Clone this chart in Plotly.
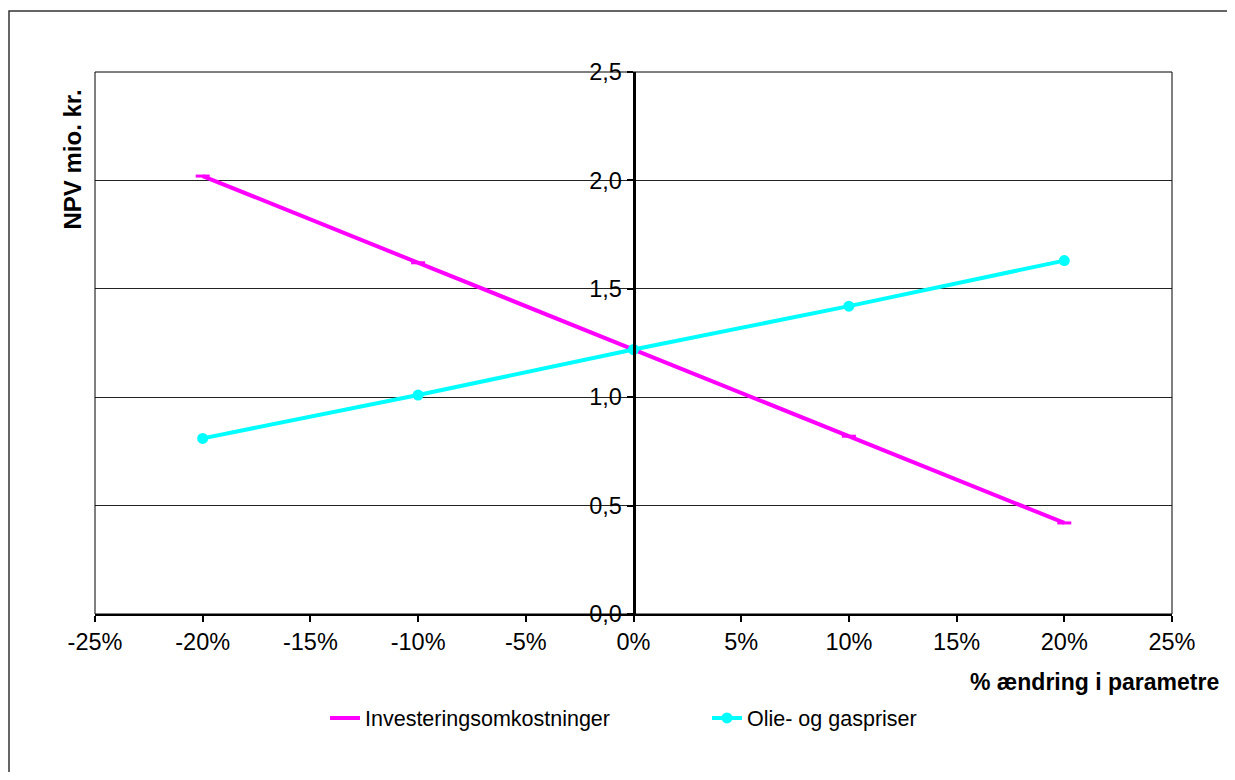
import plotly.graph_objects as go

x_change = [-0.20, -0.10, 0.0, 0.10, 0.20]
invest = [2.02, 1.62, 1.22, 0.82, 0.42]
olie = [0.81, 1.01, 1.22, 1.42, 1.63]
x_ticks = [-0.25, -0.20, -0.15, -0.10, -0.05, 0.0, 0.05, 0.10, 0.15, 0.20, 0.25]
x_labels = ["-25%", "-20%", "-15%", "-10%", "-5%", "0%", "5%", "10%", "15%", "20%", "25%"]
y_ticks = [0.0, 0.5, 1.0, 1.5, 2.0, 2.5]
y_labels = ["0,0", "0,5", "1,0", "1,5", "2,0", "2,5"]

FONT = "Liberation Sans, Arial, sans-serif"

# figure is placed with an 8px page offset; plot area in figure px
L, T, PW, PH = 87, 64, 1077, 542

fig = go.Figure()
fig.add_trace(go.Scatter(
    x=x_change, y=invest, name="Investeringsomkostninger", mode="lines+markers",
    line=dict(color="#FF00FF", width=4),
    marker=dict(symbol="line-ew", size=10, color="#FF00FF", line=dict(color="#FF00FF", width=3)),
    legend="legend",
))
fig.add_trace(go.Scatter(
    x=x_change, y=olie, name="Olie- og gaspriser", mode="lines+markers",
    line=dict(color="#00FFFF", width=4),
    marker=dict(symbol="circle", size=11, color="#00FFFF"),
    legend="legend2",
))

fig.update_layout(
    width=1227, height=764,
    margin=dict(l=L, r=63, t=T, b=158),
    paper_bgcolor="white", plot_bgcolor="white",
    font=dict(family=FONT, size=23, color="black"),
    showlegend=True,
    legend=dict(x=(317 - L) / PW, xanchor="left", y=-(710 - 606) / PH, yanchor="middle",
                font=dict(size=21.5), itemwidth=30, bgcolor="rgba(0,0,0,0)"),
    legend2=dict(x=(699 - L) / PW, xanchor="left", y=-(710 - 606) / PH, yanchor="middle",
                 font=dict(size=21.5), itemwidth=30, bgcolor="rgba(0,0,0,0)"),
    xaxis=dict(
        range=[-0.25, 0.25], tickvals=x_ticks, ticktext=x_labels,
        showgrid=False, zeroline=False,
        showline=True, linecolor="black", linewidth=2,
        ticks="outside", ticklen=6, tickwidth=2, tickcolor="black",
        tickfont=dict(size=23.5),
    ),
    yaxis=dict(
        range=[0, 2.5], tickvals=y_ticks, ticktext=y_labels,
        anchor="free", position=0.5,
        showgrid=True, gridcolor="#222222", gridwidth=1,
        zeroline=False,
        showline=True, linecolor="black", linewidth=3,
        ticks="outside", ticklen=6, tickwidth=2, tickcolor="black",
        tickfont=dict(size=23.5),
    ),
    shapes=[
        dict(type="rect", xref="paper", yref="paper", x0=0, x1=1, y0=0, y1=1,
             line=dict(color="black", width=1), layer="above"),
        dict(type="rect", xref="paper", yref="paper",
             x0=-86 / PW, x1=1 + 80 / PW, y0=-200 / PH, y1=1 + 61 / PH,
             line=dict(color="#333333", width=1.5), layer="below"),
    ],
    annotations=[
        dict(text="<b>NPV mio. kr.</b>", textangle=-90, xref="paper", yref="paper",
             x=-(87 - 79) / PW, y=(606 - 152) / PH, xanchor="right", yanchor="middle",
             showarrow=False, font=dict(size=24)),
        dict(text="<b>% ændring i parametre</b>", xref="paper", yref="paper",
             x=(1213 - L) / PW, y=-(674 - 606) / PH, xanchor="right", yanchor="middle",
             showarrow=False, font=dict(size=23)),
    ],
)

fig.write_html("out.html")
